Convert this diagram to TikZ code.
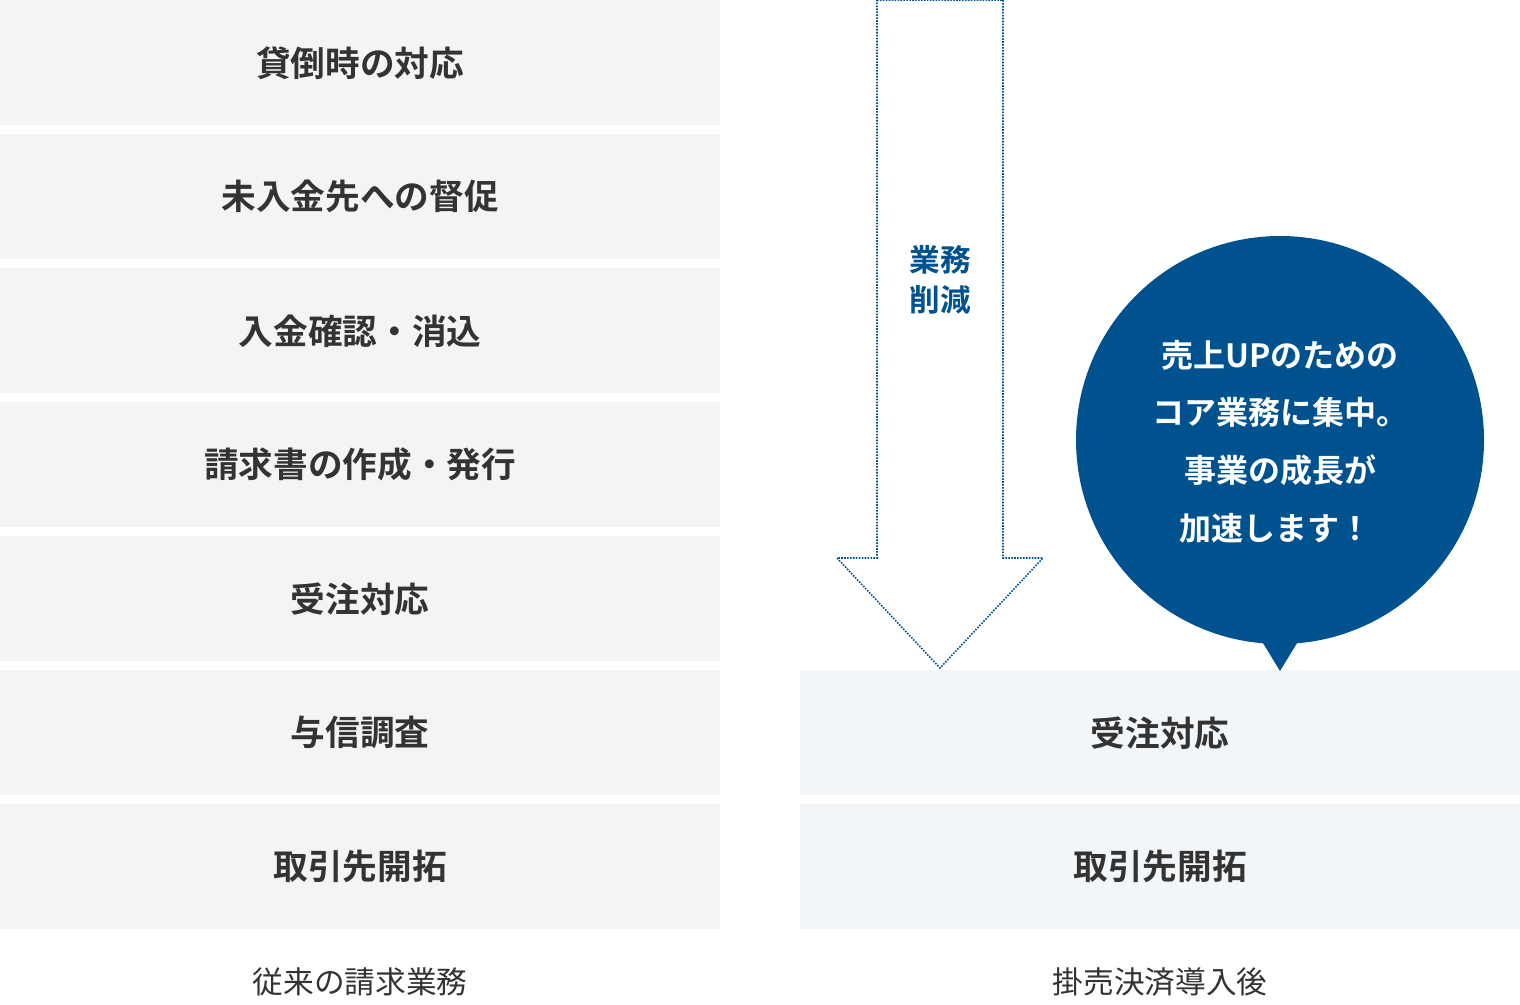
\documentclass[tikz,border=0pt]{standalone}
\usepackage{fontspec}
\setmainfont{Noto Sans CJK JP}[BoldFont={Noto Sans CJK JP Bold}]
\definecolor{gbox}{HTML}{F4F4F4}
\definecolor{bbox}{HTML}{F3F6F9}
\definecolor{navy}{HTML}{00528F}
\definecolor{txt}{HTML}{333333}
\begin{document}
\begin{tikzpicture}[x=0.75pt,y=-0.75pt,
  lbox/.style={fill=gbox,draw=none,minimum width=540pt,minimum height=93.75pt,inner sep=0,anchor=north west,font=\fontsize{26}{30}\selectfont\bfseries,text=txt},
  rbox/.style={lbox,fill=bbox},
  captxt/.style={font=\fontsize{23}{28}\selectfont,text=txt},
  btxt/.style={font=\fontsize{24}{30}\selectfont\bfseries,text=white,align=center}]
\useasboundingbox (0,0) rectangle (1520,1004);
\foreach \t [count=\i from 0] in {貸倒時の対応,未入金先への督促,入金確認・消込,請求書の作成・発行,受注対応,与信調査,取引先開拓}
  \node[lbox] (l\i) at (0,{\i*134}) {\t};
\node[rbox] (r1) at (800,670) {受注対応};
\node[rbox] (r2) at (800,804) {取引先開拓};
\node[captxt] (c1) at (360,982) {従来の請求業務};
\node[captxt] (c2) at (1160,982) {掛売決済導入後};
\draw[navy,densely dotted,line width=1.2pt] (877,0) -- (1003,0) -- (1003,558) -- (1043,558) -- (940,668) -- (837,558) -- (877,558) -- cycle;
\node[font=\fontsize{23}{30}\selectfont\bfseries,text=navy,align=center] (arr) at (940,280) {業務\\削減};
\fill[navy] (1280,440) circle[radius=204];
\fill[navy] (1255,630) -- (1305,630) -- (1280,671) -- cycle;
\node[btxt] (b1) at (1280,355) {売上UPのための};
\node[btxt] (b2) at (1280,412) {コア業務に集中。};
\node[btxt] (b3) at (1280,470) {事業の成長が};
\node[btxt] (b4) at (1275,528) {加速します！};
\end{tikzpicture}
\end{document}
